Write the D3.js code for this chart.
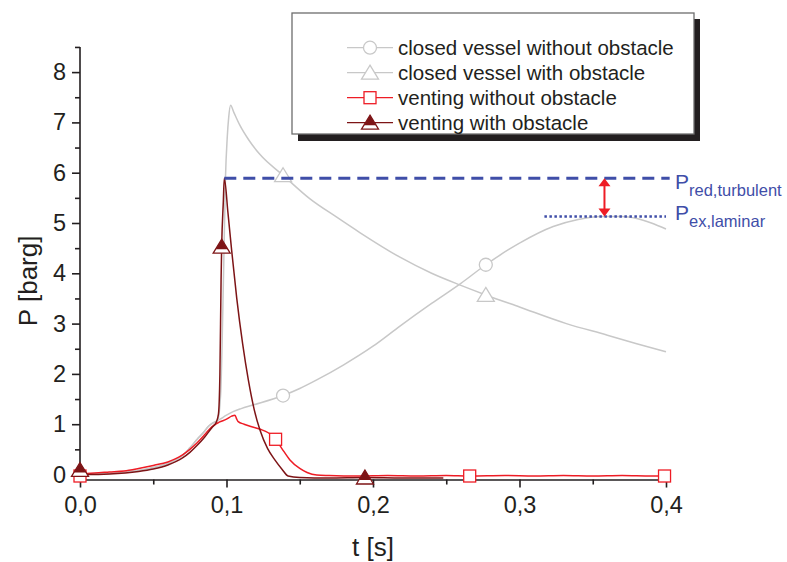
<!DOCTYPE html>
<html lang="en">
<head>
<meta charset="utf-8">
<title>Explosion pressure vs time</title>
<style>
body { margin: 0; background: #fff; }
svg { display: block; font-family: "Liberation Sans", Arial, sans-serif; }
.axis text { font-size: 23.5px; fill: #231f20; }
.axis line, .axis path { stroke: #231f20; stroke-width: 1.6; }
.series { fill: none; stroke-width: 1.5; }
</style>
</head>
<body>
<svg width="787" height="562"></svg>
<script src="https://cdn.jsdelivr.net/npm/d3@7"></script>
<script>

// closed vessel without obstacle
const closedNoObsT = [0, 0.02, 0.04, 0.05, 0.06, 0.065, 0.07, 0.075, 0.08, 0.085, 0.0874, 0.09, 0.0956, 0.1, 0.1045, 0.11, 0.118, 0.1386, 0.15, 0.1616, 0.18, 0.2, 0.2184, 0.24, 0.26, 0.277, 0.3, 0.323, 0.34, 0.355, 0.37, 0.38, 0.39, 0.4];
const closedNoObsP = [0, 0.02, 0.08, 0.14, 0.22, 0.29, 0.38, 0.53, 0.7, 0.86, 0.95, 1.01, 1.1, 1.18, 1.25, 1.31, 1.38, 1.57, 1.71, 1.88, 2.18, 2.55, 2.95, 3.4, 3.8, 4.17, 4.6, 4.93, 5.07, 5.13, 5.13, 5.09, 5.0, 4.88];

// closed vessel with obstacle
const closedObsT = [0, 0.02, 0.04, 0.05, 0.06, 0.065, 0.07, 0.075, 0.08, 0.085, 0.0874, 0.09, 0.094, 0.096, 0.098, 0.0993, 0.1005, 0.1015, 0.1028, 0.105, 0.109, 0.115, 0.1229, 0.1386, 0.157, 0.175, 0.191, 0.2184, 0.24, 0.26, 0.277, 0.3, 0.332, 0.36, 0.38, 0.4];
const closedObsP = [0, 0.02, 0.08, 0.14, 0.22, 0.29, 0.38, 0.53, 0.7, 0.86, 0.95, 1.01, 1.08, 1.6, 4.0, 5.9, 6.7, 7.1, 7.34, 7.2, 6.95, 6.66, 6.36, 5.95, 5.48, 5.12, 4.81, 4.32, 4.0, 3.76, 3.57, 3.33, 3.0, 2.77, 2.6, 2.44];

// venting without obstacle
const ventNoObsT = [0, 0.003, 0.01, 0.02, 0.03, 0.04, 0.05, 0.06, 0.065, 0.07, 0.075, 0.08, 0.085, 0.09, 0.095, 0.1, 0.1035, 0.1058, 0.107, 0.108, 0.112, 0.116, 0.123, 0.1285, 0.1335, 0.1377, 0.1433, 0.15, 0.155, 0.1616, 0.17, 0.19, 0.21, 0.23, 0.25, 0.266, 0.29, 0.31, 0.33, 0.35, 0.37, 0.39, 0.399];
const ventNoObsP = [-0.03, 0.02, 0.03, 0.05, 0.07, 0.12, 0.18, 0.25, 0.31, 0.39, 0.5, 0.63, 0.79, 0.95, 1.04, 1.1, 1.16, 1.18, 1.1, 1.05, 1.0, 0.96, 0.9, 0.83, 0.7, 0.52, 0.29, 0.12, 0.04, -0.01, -0.02, -0.03, -0.02, -0.03, -0.02, -0.03, -0.02, -0.03, -0.02, -0.03, -0.02, -0.03, -0.03];

// venting with obstacle
const ventObsT = [0, 0.002, 0.005, 0.02, 0.04, 0.05, 0.06, 0.07, 0.075, 0.08, 0.085, 0.09, 0.093, 0.0945, 0.0955, 0.0963, 0.0967, 0.0978, 0.0985, 0.101, 0.1035, 0.107, 0.111, 0.1149, 0.119, 0.1229, 0.128, 0.133, 0.138, 0.142, 0.15, 0.17, 0.1945, 0.22, 0.248];
const ventObsP = [0.09, 0.05, 0.0, 0.01, 0.06, 0.11, 0.19, 0.33, 0.44, 0.58, 0.74, 0.93, 1.04, 1.2, 2.0, 3.87, 4.53, 5.4, 5.89, 5.2, 4.46, 3.5, 2.6, 1.88, 1.28, 0.88, 0.52, 0.29, 0.1, -0.03, -0.06, -0.07, -0.06, -0.07, -0.07];

// where the symbols sit on each curve
const closedNoObsMarks = [0.1386, 0.277];
const closedObsMarks = [0.1386, 0.277];
const ventNoObsMarks = [0, 0.1335, 0.266, 0.399];
const ventObsMarks = [0, 0.0967, 0.1945];

const seriesNames = ['closed vessel without obstacle', 'closed vessel with obstacle',
                     'venting without obstacle', 'venting with obstacle'];

const xTicks = [0, 0.1, 0.2, 0.3, 0.4];
const xMinor = [0.05, 0.15, 0.25, 0.35];
const yTicks = [0, 1, 2, 3, 4, 5, 6, 7, 8];
const yMinor = [0.5, 1.5, 2.5, 3.5, 4.5, 5.5, 6.5, 7.5, 8.5];

const GRAY = '#c8c8c8', RED = '#ee1c25', DARK = '#7d1416', BLUE = '#3f4ea8';

var svg = d3.select('svg');

let x = d3.scaleLinear().domain([0, 0.4]).range([80, 666]);
let y = d3.scaleLinear().domain([0, 8]).range([474.5, 72.1]);

const comma = d => d3.format('.1f')(d).replace('.', ',');

// axes
svg.append('g').attr('class', 'axis')
    .attr('transform', 'translate(0,' + y(-0.1) + ')')
    .call(d3.axisBottom(x).tickValues(xTicks).tickFormat(comma).tickSize(8).tickPadding(9).tickSizeOuter(0));
svg.append('g').attr('class', 'axis')
    .attr('transform', 'translate(0,' + y(-0.1) + ')')
    .call(d3.axisBottom(x).tickValues(xMinor).tickFormat('').tickSize(5).tickSizeOuter(0))
    .select('.domain').remove();

let yAxis = svg.append('g').attr('class', 'axis')
    .attr('transform', 'translate(80,0)')
    .call(d3.axisLeft(y).tickValues(yTicks).tickFormat(d3.format('d')).tickSize(8).tickPadding(6));
yAxis.select('.domain').remove();
svg.append('g').attr('class', 'axis')
    .attr('transform', 'translate(80,0)')
    .call(d3.axisLeft(y).tickValues(yMinor).tickFormat('').tickSize(5))
    .select('.domain').remove();
svg.append('line')
    .attr('x1', 80).attr('x2', 80)
    .attr('y1', y(8.5)).attr('y2', y(-0.1))
    .attr('stroke', '#231f20').attr('stroke-width', 1.6);

svg.append('text')
    .attr('x', x(0.2)).attr('y', 556)
    .attr('text-anchor', 'middle').attr('font-size', 26).attr('fill', '#231f20')
    .text('t [s]');
svg.append('text')
    .attr('transform', 'translate(37,' + y(3.85) + ') rotate(-90)')
    .attr('text-anchor', 'middle').attr('font-size', 26).attr('fill', '#231f20')
    .text('P [barg]');

// curves
const zip = (ts, ps) => ts.map((t, i) => ({t: t, p: ps[i]}));
const series = [
  {data: zip(closedNoObsT, closedNoObsP), marks: closedNoObsMarks, color: GRAY, sym: 'circle'},
  {data: zip(closedObsT, closedObsP), marks: closedObsMarks, color: GRAY, sym: 'triangle'},
  {data: zip(ventNoObsT, ventNoObsP), marks: ventNoObsMarks, color: RED, sym: 'square'},
  {data: zip(ventObsT, ventObsP), marks: ventObsMarks, color: DARK, sym: 'filledTriangle'}
];

let line = d3.line().x(d => x(d.t)).y(d => y(d.p)).curve(d3.curveMonotoneX);

// value of a curve at time t (linear between samples)
function valueAt(data, t) {
  let i = d3.bisector(d => d.t).left(data, t);
  if (i <= 0) return data[0].p;
  if (i >= data.length) return data[data.length - 1].p;
  let a = data[i - 1], b = data[i];
  return a.p + (b.p - a.p) * (t - a.t) / (b.t - a.t);
}

function drawSymbol(g, sym, color, cx, cy) {
  if (sym === 'circle') {
    g.append('circle').attr('cx', cx).attr('cy', cy).attr('r', 6.5)
      .attr('fill', '#fff').attr('stroke', color).attr('stroke-width', 1.3);
  } else if (sym === 'triangle') {
    g.append('path')
      .attr('d', 'M' + cx + ',' + (cy - 7.5) + 'L' + (cx + 8.5) + ',' + (cy + 6.5) + 'L' + (cx - 8.5) + ',' + (cy + 6.5) + 'Z')
      .attr('fill', '#fff').attr('stroke', color).attr('stroke-width', 1.3);
  } else if (sym === 'square') {
    g.append('rect').attr('x', cx - 6).attr('y', cy - 6).attr('width', 12).attr('height', 12)
      .attr('fill', '#fff').attr('stroke', color).attr('stroke-width', 1.3);
  } else {
    g.append('path')
      .attr('d', 'M' + cx + ',' + (cy - 7.5) + 'L' + (cx + 8.5) + ',' + (cy + 6.5) + 'L' + (cx - 8.5) + ',' + (cy + 6.5) + 'Z')
      .attr('fill', '#fff').attr('stroke', color).attr('stroke-width', 1.3);
    g.append('path')
      .attr('d', 'M' + cx + ',' + (cy - 7.5) + 'L' + (cx + 6) + ',' + (cy + 2.5) + 'L' + (cx - 6) + ',' + (cy + 2.5) + 'Z')
      .attr('fill', color);
  }
}

series.forEach(s => {
  svg.append('path').datum(s.data)
    .attr('class', 'series')
    .attr('stroke', s.color)
    .attr('d', line);
  let g = svg.append('g');
  s.marks.forEach(t => drawSymbol(g, s.sym, s.color, x(t), y(valueAt(s.data, t))));
});

// P_red (turbulent, vented) and P_ex (laminar, closed) levels
const pRed = d3.max(ventObsP);
const tRed = ventObsT[ventObsP.indexOf(pRed)];
const pEx = d3.max(closedNoObsP);

svg.append('line')
  .attr('x1', x(tRed)).attr('x2', x(0.4025))
  .attr('y1', y(pRed)).attr('y2', y(pRed))
  .attr('stroke', BLUE).attr('stroke-width', 3).attr('stroke-dasharray', '12,7');
svg.append('line')
  .attr('x1', x(0.317)).attr('x2', x(0.4))
  .attr('y1', y(pEx)).attr('y2', y(pEx))
  .attr('stroke', BLUE).attr('stroke-width', 2.5).attr('stroke-dasharray', '2.5,2.5');

// double arrow between the two levels
let ax = x(0.358), ay1 = y(pRed), ay2 = y(pEx);
svg.append('line')
  .attr('x1', ax).attr('x2', ax).attr('y1', ay1 + 6).attr('y2', ay2 - 6)
  .attr('stroke', RED).attr('stroke-width', 2);
svg.append('path')
  .attr('d', 'M' + ax + ',' + ay1 + 'l6,8h-12Z' + 'M' + ax + ',' + ay2 + 'l6,-8h-12Z')
  .attr('fill', RED);

function levelLabel(yy, sub) {
  let t = svg.append('text').attr('x', 675).attr('y', yy).attr('fill', BLUE).attr('font-size', 21);
  t.append('tspan').text('P');
  t.append('tspan').attr('dy', 7).attr('font-size', 16.5).text(sub);
}
levelLabel(y(pRed) + 11, 'red,turbulent');
levelLabel(y(pEx) + 4, 'ex,laminar');

// legend
let legend = svg.append('g');
legend.append('rect').attr('x', 298).attr('y', 19).attr('width', 402).attr('height', 122).attr('fill', '#231f20');
legend.append('rect').attr('x', 292).attr('y', 13).attr('width', 402).attr('height', 121)
  .attr('fill', '#fff').attr('stroke', '#6d6d6d').attr('stroke-width', 1.3);

let rows = legend.selectAll('g.row').data(series)
  .enter().append('g').attr('class', 'row')
  .attr('transform', (d, i) => 'translate(0,' + (47.7 + i * 25) + ')');
rows.append('line').attr('x1', 347).attr('x2', 393).attr('y1', 0).attr('y2', 0)
  .attr('stroke', d => d.color).attr('stroke-width', 1.3);
rows.each(function(d) { drawSymbol(d3.select(this), d.sym, d.color, 370, 0); });
rows.append('text').attr('x', 398).attr('y', 7.5)
  .attr('font-size', 20.5).attr('fill', '#231f20')
  .text((d, i) => seriesNames[i]);

</script>
</body>
</html>
